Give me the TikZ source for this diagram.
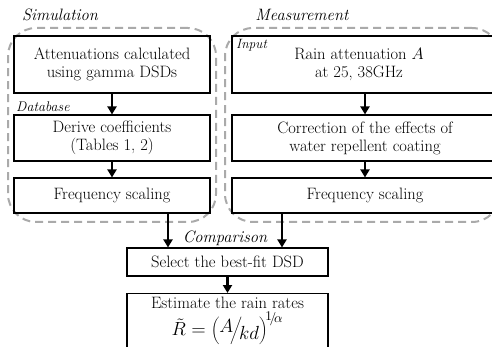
\RequirePackage{fix-cm}
\documentclass[tikz,border=0pt]{standalone}
\usepackage{fontspec}
\usepackage{graphicx}
\usetikzlibrary{arrows.meta}
\definecolor{dashgray}{RGB}{170,170,170}
\tikzset{
  box/.style={draw=black, line width=1.1pt, align=center, inner sep=0pt, font=\fontsize{16.5}{18}\selectfont},
  grp/.style={draw=dashgray, line width=2pt, dash pattern=on 8pt off 5pt, rounded corners=28pt, inner sep=0pt},
  arr/.style={line width=2.4pt, -{Triangle[length=8pt,width=9pt]}},
  lab/.style={font=\fontsize{16.5}{18}\selectfont\itshape, inner sep=0pt},
  slab/.style={font=\fontsize{14}{15}\selectfont\itshape, inner sep=0pt},
}
\begin{document}
\begin{tikzpicture}[x=1pt,y=-1pt]
\useasboundingbox (0,0) rectangle (492,347);
% groups
\node[grp, minimum width=208pt, minimum height=194pt] (gs) at (112,125) {};
\node[grp, minimum width=275pt, minimum height=194pt] (gm) at (362.5,125) {};
\node[lab] (tsim) at (60,15) {Simulation};
\node[lab] (tmea) at (302,15) {Measurement};
% simulation column
\node[box, minimum width=196pt, minimum height=57pt] (s1) at (112,64.5) {Attenuations calculated\\using gamma DSDs};
\node[box, minimum width=196pt, minimum height=46pt] (s2) at (112,138) {Derive coefficients\\(Tables 1, 2)};
\node[box, minimum width=196pt, minimum height=35pt] (s3) at (112,195.5) {Frequency scaling};
\node[slab, anchor=west] (tdb) at (16,107) {Database};
% measurement column
\node[box, minimum width=266pt, minimum height=57pt] (m1) at (365,64.5) {Rain attenuation $A$\hspace*{12pt}\\at 25, 38GHz\hspace*{12pt}};
\node[box, minimum width=266pt, minimum height=46pt] (m2) at (365,138) {Correction of the effects of\\water repellent coating};
\node[box, minimum width=266pt, minimum height=35pt] (m3) at (365,195.5) {Frequency scaling};
\node[slab, anchor=west, font=\fontsize{13.5}{14}\selectfont\itshape] (tin) at (236,45) {Input};
% bottom
\node[box, minimum width=201pt, minimum height=28pt] (sel) at (227.5,262) {Select the best-fit DSD};
\node[box, minimum width=201pt, anchor=north, inner ysep=3pt, text depth=30pt] (est) at (227.5,293)
  {Estimate the rain rates\\[3pt]
   \scalebox{1.15}{$\tilde{R}=\left(\rule[-5pt]{0pt}{16pt}\raisebox{3pt}{$A$}\!\middle/\!\raisebox{-3pt}{$kd$}\right)^{\!\raisebox{1.5pt}{$\scriptstyle 1$}\!/\!\alpha}$}};
\node[lab] (tcmp) at (225,238) {Comparison};
% arrows
\draw[arr] (s1) -- (s2);
\draw[arr] (s2) -- (s3);
\draw[arr] (m1) -- (m2);
\draw[arr] (m2) -- (m3);
\draw[arr] ([xshift=56pt]s3.south) -- ([xshift=56pt]s3.south |- sel.north);
\draw[arr] ([xshift=-83pt]m3.south) -- ([xshift=-83pt]m3.south |- sel.north);
\draw[arr] (sel) -- (est);
\end{tikzpicture}
\end{document}
